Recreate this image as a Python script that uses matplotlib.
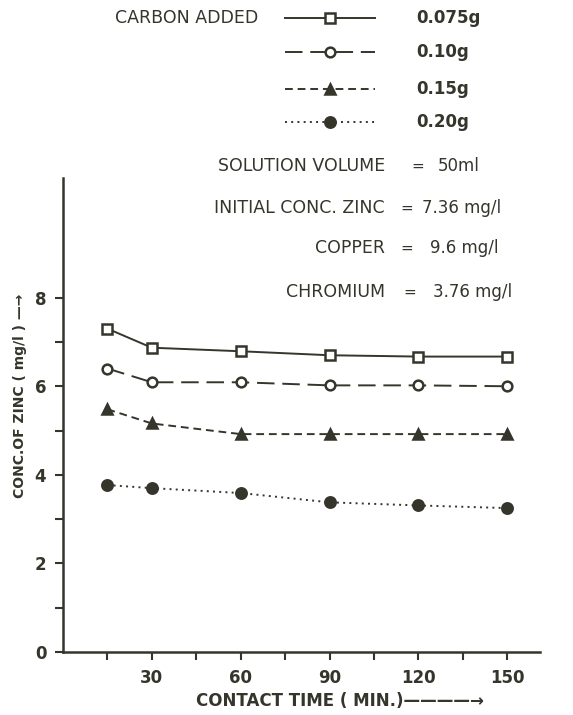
import matplotlib
matplotlib.use("Agg")
import matplotlib.pyplot as plt
from matplotlib.lines import Line2D

# Contact time (min) and residual zinc concentration (mg/l) for each carbon dose
time_min = [15, 30, 60, 90, 120, 150]
zinc_0075 = [7.30, 6.87, 6.79, 6.70, 6.67, 6.67]
zinc_010 = [6.40, 6.09, 6.09, 6.02, 6.02, 6.00]
zinc_015 = [5.48, 5.16, 4.92, 4.92, 4.92, 4.92]
zinc_020 = [3.77, 3.70, 3.59, 3.38, 3.31, 3.25]

dose_labels = ["0.075g", "0.10g", "0.15g", "0.20g"]
x_ticks = [15, 30, 45, 60, 75, 90, 105, 120, 135, 150]
x_ticklabels = ["", "30", "", "60", "", "90", "", "120", "", "150"]
y_major = [0, 2, 4, 6, 8]
y_minor = [1, 3, 5, 7]

INK = "#35352c"
FONT = "DejaVu Sans"

series = [zinc_0075, zinc_010, zinc_015, zinc_020]
styles = [
    dict(ls="-", marker="s", mfc="white", ms=6.5),
    dict(ls=(0, (9, 4)), marker="o", mfc="white", ms=7),
    dict(ls=(0, (4, 2.5)), marker="^", mfc=INK, ms=7),
    dict(ls=(0, (1, 2.2)), marker="o", mfc=INK, ms=7.5),
]

fig = plt.figure(figsize=(5.73, 7.15), dpi=100)
ax = fig.add_axes([0.110, 0.088, 0.832, 0.663])

for vals, st in zip(series, styles):
    ax.plot(time_min, vals, color=INK, lw=1.4, mec=INK, mew=1.8, **st)

ax.set_xlim(0, 161)
ax.set_ylim(0, 10.7)
ax.spines["top"].set_visible(False)
ax.spines["right"].set_visible(False)
for s in ("left", "bottom"):
    ax.spines[s].set_color(INK)
    ax.spines[s].set_linewidth(1.8)

ax.set_xticks(x_ticks)
ax.set_xticklabels(x_ticklabels)
ax.set_yticks(y_major)
ax.set_yticks(y_minor, minor=True)
ax.tick_params(axis="both", which="both", direction="out", color=INK,
               width=1.5, labelsize=12, labelcolor=INK, pad=6)
ax.tick_params(axis="both", which="major", length=6)
ax.tick_params(axis="y", which="minor", length=6)
for lab in ax.get_xticklabels() + ax.get_yticklabels():
    lab.set_fontfamily(FONT)
    lab.set_fontweight("bold")

ax.set_xlabel("CONTACT TIME ( MIN.)————→", fontsize=12, color=INK,
              fontfamily=FONT, fontweight="bold")
ax.xaxis.set_label_coords(0.58, -0.085)
ax.set_ylabel("CONC.OF ZINC ( mg/l ) —→", fontsize=10, color=INK,
              fontfamily=FONT, fontweight="bold")
ax.yaxis.set_label_coords(-0.075, 0.54)

# Legend block drawn in figure coordinates
W, H = 573.0, 715.0
fig.text(115 / W, 1 - 18 / H, "CARBON ADDED", fontsize=12.5, color=INK,
         fontfamily=FONT, va="center", ha="left")
rows_y = [18, 52, 89, 122]
for yy, st, lab in zip(rows_y, styles, dose_labels):
    fy = 1 - yy / H
    fig.add_artist(Line2D([285 / W, 375 / W], [fy, fy], color=INK, lw=1.4,
                          ls=st["ls"], transform=fig.transFigure))
    fig.add_artist(Line2D([330 / W], [fy], color=INK, marker=st["marker"],
                          mfc=st["mfc"], mec=INK, mew=1.8, ms=st["ms"],
                          ls="none", transform=fig.transFigure))
    fig.text(416 / W, fy, lab, fontsize=12, color=INK, fontfamily=FONT,
             fontweight="bold", va="center", ha="left")

# Experimental conditions
notes = [
    (166, "SOLUTION VOLUME", 418, "50ml", 438),
    (208, "INITIAL CONC. ZINC", 407, "7.36 mg/l", 422),
    (248, "COPPER", 407, "9.6 mg/l", 430),
    (292, "CHROMIUM", 410, "3.76 mg/l", 433),
]
for yy, left, eq_x, right, val_x in notes:
    fy = 1 - yy / H
    fig.text(385 / W, fy, left, fontsize=12.5, color=INK, fontfamily=FONT,
             va="center", ha="right")
    fig.text(eq_x / W, fy, "=", fontsize=11, color=INK, fontfamily=FONT,
             va="center", ha="center")
    fig.text(val_x / W, fy, right, fontsize=12, color=INK, fontfamily=FONT,
             va="center", ha="left")

fig.savefig("out.png", dpi=100, facecolor="white")
